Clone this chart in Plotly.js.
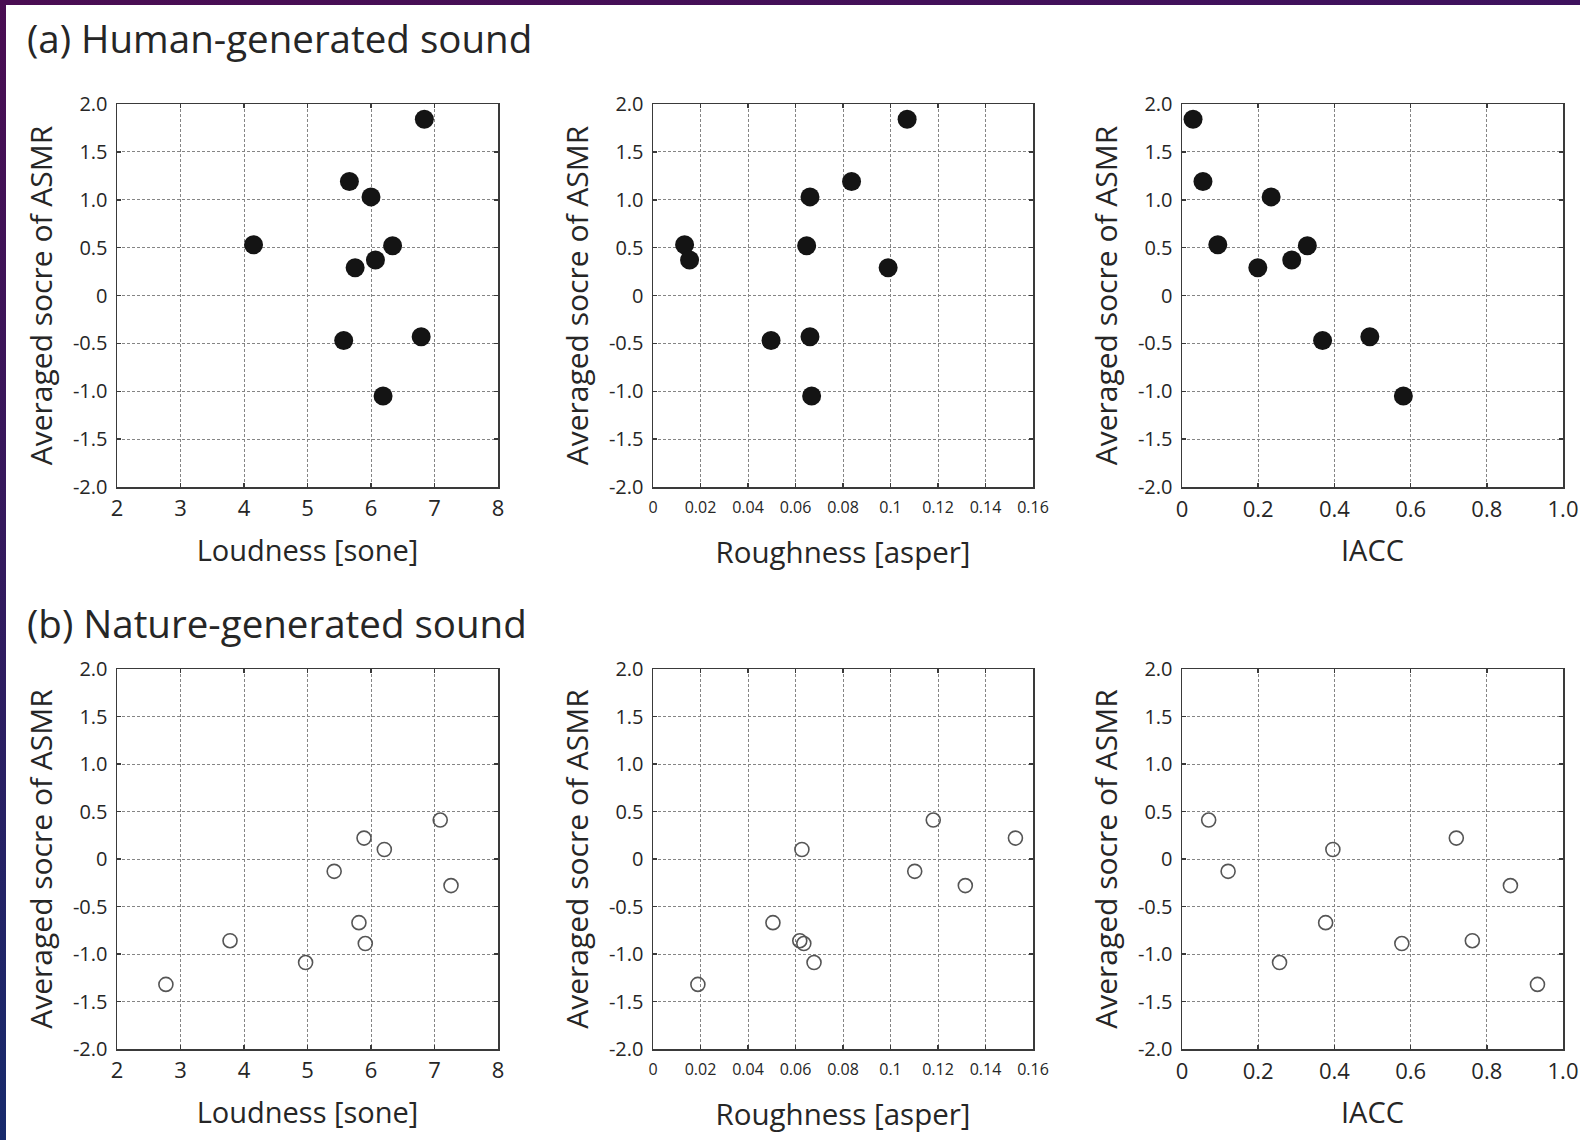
<!DOCTYPE html>
<html>
<head>
<meta charset="utf-8">
<script src="https://cdn.plot.ly/plotly-3.0.1.min.js"></script>
<style>
  html, body { margin: 0; padding: 0; background: #ffffff; }
  #wrap { position: relative; width: 1580px; height: 1140px; overflow: hidden; background: #ffffff; }
  #plot { position: absolute; left: 0; top: 0; width: 1580px; height: 1140px; }
  #bartop { position: absolute; left: 0; top: 0; width: 1580px; height: 5px; background: linear-gradient(to right, #4a0d52, #3e125e); }
  #barleft { position: absolute; left: 0; top: 0; width: 6px; height: 1140px; background: linear-gradient(to bottom, #4a0d52, #331a5e 50%, #172a6c); }
</style>
</head>
<body>
<div id="wrap">
  <div id="plot"></div>
  <div id="bartop"></div>
  <div id="barleft"></div>
</div>
<script>
// ---------- data ----------
// (a) Human-generated sound: averaged ASMR score and acoustic features
const humanScore     = [1.84, 1.19, 1.03, 0.53, 0.52, 0.37, 0.29, -0.47, -0.43, -1.05];
const humanLoudness  = [6.84, 5.66, 6.00, 4.15, 6.34, 6.07, 5.75, 5.57, 6.79, 6.19];
const humanRoughness = [0.107, 0.0836, 0.0661, 0.0133, 0.0647, 0.0154, 0.099, 0.0497, 0.0661, 0.0668];
const humanIACC      = [0.029, 0.055, 0.234, 0.094, 0.329, 0.288, 0.199, 0.369, 0.493, 0.581];

// (b) Nature-generated sound
const natureScore     = [0.41, 0.22, 0.10, -0.13, -0.28, -0.67, -0.86, -0.89, -1.09, -1.32];
const natureLoudness  = [7.09, 5.89, 6.21, 5.42, 7.26, 5.81, 3.78, 5.91, 4.97, 2.77];
const natureRoughness = [0.118, 0.1526, 0.0627, 0.1102, 0.1315, 0.0505, 0.0618, 0.0635, 0.0678, 0.0189];
const natureIACC      = [0.070, 0.720, 0.396, 0.121, 0.862, 0.377, 0.762, 0.577, 0.256, 0.933];

// tick labels
const scoreTickVals  = [-2, -1.5, -1, -0.5, 0, 0.5, 1, 1.5, 2];
const scoreTickText  = ["-2.0", "-1.5", "-1.0", "-0.5", "0", "0.5", "1.0", "1.5", "2.0"];
const loudTickVals   = [2, 3, 4, 5, 6, 7, 8];
const loudTickText   = ["2", "3", "4", "5", "6", "7", "8"];
const roughTickVals  = [0, 0.02, 0.04, 0.06, 0.08, 0.1, 0.12, 0.14, 0.16];
const roughTickText  = ["0", "0.02", "0.04", "0.06", "0.08", "0.1", "0.12", "0.14", "0.16"];
const iaccTickVals   = [0, 0.2, 0.4, 0.6, 0.8, 1.0];
const iaccTickText   = ["0", "0.2", "0.4", "0.6", "0.8", "1.0"];

const yTitle = "Averaged socre of ASMR";
const xTitles = ["Loudness [sone]", "Roughness [asper]", "IACC"];
const sectionTitles = ["(a) Human-generated sound", "(b) Nature-generated sound"];

// ---------- layout helpers ----------
const W = 1580, H = 1140;
const FONT = "Open Sans, Noto Sans, sans-serif";
const TXT = "#262626";
const colPx = [[117, 498], [653, 1033], [1182, 1563]];
const rowPx = [[104, 487], [669, 1049]];
const xDom = c => [colPx[c][0] / W, colPx[c][1] / W];
const yDom = r => [1 - rowPx[r][1] / H, 1 - rowPx[r][0] / H];

const xRanges = [[2, 8], [0, 0.16], [0, 1]];
const xTV = [loudTickVals, roughTickVals, iaccTickVals];
const xTT = [loudTickText, roughTickText, iaccTickText];
const xTickSize = [22, 16, 22];
const xTickStandoff = [1, 5, 2];
const xTitleSize = [29, 29.5, 29];
const xTitleStandoff = [20, 25, 19];

const human = [humanLoudness, humanRoughness, humanIACC];
const nature = [natureLoudness, natureRoughness, natureIACC];

const traces = [];
const layout = {
  width: W, height: H,
  margin: { l: 0, r: 0, t: 0, b: 0 },
  paper_bgcolor: "rgba(0,0,0,0)",
  plot_bgcolor: "#ffffff",
  showlegend: false,
  font: { family: FONT, color: TXT },
  annotations: []
};

let k = 0;
for (let r = 0; r < 2; r++) {
  for (let c = 0; c < 3; c++) {
    k++;
    const xa = "xaxis" + (k === 1 ? "" : k);
    const ya = "yaxis" + (k === 1 ? "" : k);
    const xr = "x" + (k === 1 ? "" : k);
    const yr = "y" + (k === 1 ? "" : k);
    const common = {
      showline: true, linecolor: "#3a3a3a", linewidth: 1.5, mirror: "ticks",
      ticks: "inside", ticklen: 4, tickwidth: 1.5, tickcolor: "#3a3a3a",
      showgrid: true, gridcolor: "#858585", gridwidth: 1, griddash: "3px,2px",
      zeroline: false, fixedrange: true
    };
    layout[xa] = Object.assign({}, common, {
      domain: xDom(c), anchor: yr, range: xRanges[c],
      tickmode: "array", tickvals: xTV[c], ticktext: xTT[c],
      tickfont: { family: FONT, size: xTickSize[c], color: TXT },
      ticklabelstandoff: xTickStandoff[c],
      title: { text: xTitles[c], font: { family: FONT, size: xTitleSize[c], color: TXT }, standoff: xTitleStandoff[c] }
    });
    layout[ya] = Object.assign({}, common, {
      domain: yDom(r), anchor: xr, range: [-2, 2],
      tickmode: "array", tickvals: scoreTickVals, ticktext: scoreTickText,
      tickfont: { family: FONT, size: 20, color: TXT },
      ticklabelstandoff: 4,
      title: { text: yTitle, font: { family: FONT, size: 30, color: TXT }, standoff: 11 }
    });
    if (r === 0) {
      traces.push({
        type: "scatter", mode: "markers", x: human[c], y: humanScore,
        xaxis: xr, yaxis: yr, cliponaxis: false,
        marker: { symbol: "circle", size: 19, color: "#141414", line: { width: 0 } },
        hoverinfo: "x+y"
      });
    } else {
      traces.push({
        type: "scatter", mode: "markers", x: nature[c], y: natureScore,
        xaxis: xr, yaxis: yr, cliponaxis: false,
        marker: { symbol: "circle-open", size: 14, color: "#555555", line: { width: 1.6 } },
        hoverinfo: "x+y"
      });
    }
  }
}

layout.annotations.push({
  text: sectionTitles[0], xref: "paper", yref: "paper",
  x: 25 / W, y: 1 - 38 / H, xanchor: "left", yanchor: "middle",
  showarrow: false, font: { family: FONT, size: 38.5, color: TXT }
});
layout.annotations.push({
  text: sectionTitles[1], xref: "paper", yref: "paper",
  x: 25 / W, y: 1 - 623 / H, xanchor: "left", yanchor: "middle",
  showarrow: false, font: { family: FONT, size: 38.5, color: TXT }
});

Plotly.newPlot("plot", traces, layout, { displayModeBar: false, staticPlot: true });
</script>
</body>
</html>
